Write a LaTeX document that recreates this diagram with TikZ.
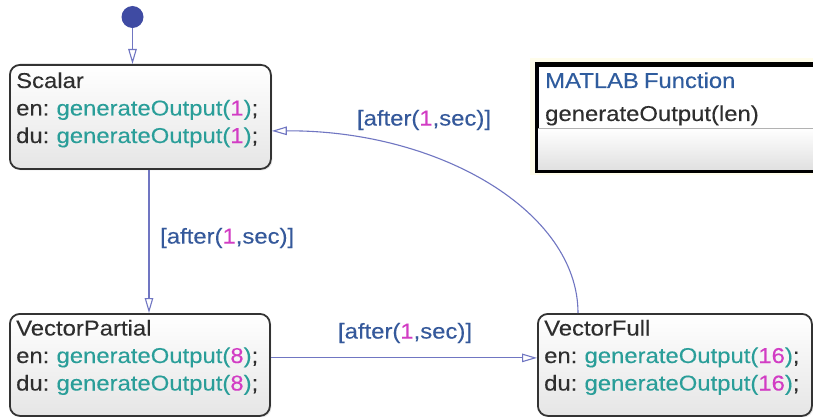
\documentclass[tikz,border=0pt]{standalone}
\usepackage{fontspec}
\setmainfont{Liberation Sans}[FakeStretch=1.11, WordSpace=0.75, FakeBold=0.25]
\usetikzlibrary{arrows.meta,shadows}
\definecolor{dotblue}{HTML}{3F4BA3}
\definecolor{trblue}{HTML}{7076C2}
\definecolor{lblblue}{HTML}{35599B}
\definecolor{teal2}{HTML}{2A9E99}
\definecolor{mag}{HTML}{D23CC4}
\definecolor{txtgray}{HTML}{2E2E2E}
\definecolor{border}{HTML}{333333}
\definecolor{mblue}{HTML}{2F5C9E}
\newcommand{\gO}[1]{\textcolor{teal2}{generateOutput(}\textcolor{mag}{#1}\textcolor{teal2}{)};}
\newcommand{\aft}{[after(\textcolor{mag}{1},sec)]}
\tikzset{
  statebox/.style={draw=border, line width=1.8pt, rounded corners=10pt,
    top color=white, bottom color=black!10, anchor=north west, inner sep=0pt,
    drop shadow={opacity=0.18, shadow xshift=1.5pt, shadow yshift=-1.5pt}},
  stxt/.style={anchor=base west, inner sep=0pt, text=txtgray, font=\fontsize{21.5}{26}\selectfont},
  trans/.style={draw=trblue, line width=1.1pt, -{Triangle[open, length=15pt, width=8.5pt, line width=1.1pt]}},
  tlabel/.style={text=lblblue, inner sep=0pt, font=\fontsize{21.5}{26}\selectfont}
}
\begin{document}
\begin{tikzpicture}[x=1pt,y=-1pt]
\useasboundingbox (0,0) rectangle (813,417);
\clip (0,0) rectangle (813,417);
\fill[white] (0,0) rectangle (813,417);
% states
\node[statebox, minimum width=261pt, minimum height=104pt] (scalar) at (9,64) {};
\node[stxt] (scalarN) at (16,88) {Scalar};
\node[stxt] (scalarE) at (16,115.5) {en: \gO{1}};
\node[stxt] (scalarD) at (16,143) {du: \gO{1}};
\node[statebox, minimum width=260pt, minimum height=102pt] (vpart) at (9,313) {};
\node[stxt] (vpartN) at (16,335.5) {VectorPartial};
\node[stxt] (vpartE) at (16,363) {en: \gO{8}};
\node[stxt] (vpartD) at (16,390.5) {du: \gO{8}};
\node[statebox, minimum width=274pt, minimum height=102pt] (vfull) at (537,313) {};
\node[stxt] (vfullN) at (544,335.5) {VectorFull};
\node[stxt] (vfullE) at (544,363) {en: \gO{16}};
\node[stxt] (vfullD) at (544,390.5) {du: \gO{16}};
% MATLAB function box
\draw[yellow!30, line width=6pt, opacity=0.25] (533,61) rectangle (840,172);
\node[draw=black, line width=3pt, fill=white, minimum width=300pt, minimum height=104pt, anchor=north west, inner sep=0pt] (mfun) at (536,64) {};
\shade[top color=white, bottom color=black!12] ([xshift=1.5pt,yshift=-64pt]mfun.north west) rectangle ([xshift=-1.5pt,yshift=1.5pt]mfun.south east);
\draw[black!30, line width=0.8pt] ([xshift=1.5pt,yshift=-64pt]mfun.north west) -- ([yshift=-64pt]mfun.north east);
\draw[black, line width=3pt] (mfun.north west) rectangle (mfun.south east);
\node[stxt, text=mblue] (mfunT) at (545,88) {MATLAB Function};
\node[stxt] (mfunS) at (545,121) {generateOutput(len)};
% initial
\node[circle, fill=dotblue, minimum size=22pt, inner sep=0pt] (init) at (132.5,17) {};
\draw[trans] (init) -- (init |- scalar.north);
% transitions
\draw[trans] ([xshift=140pt]scalar.south west) -- ([xshift=140pt]vpart.north west);
\node[tlabel, anchor=west] (l1) at (160,238) {\aft};
\draw[trans] ([yshift=7pt]vpart.east) -- ([yshift=7pt]vfull.west);
\node[tlabel] (l2) at (405,333) {\aft};
\draw[trans] ([xshift=41pt]vfull.north west) .. controls (578,212) and (440,130) .. ([yshift=-14pt]scalar.east);
\node[tlabel] (l3) at (424,120) {\aft};
\end{tikzpicture}
\end{document}
